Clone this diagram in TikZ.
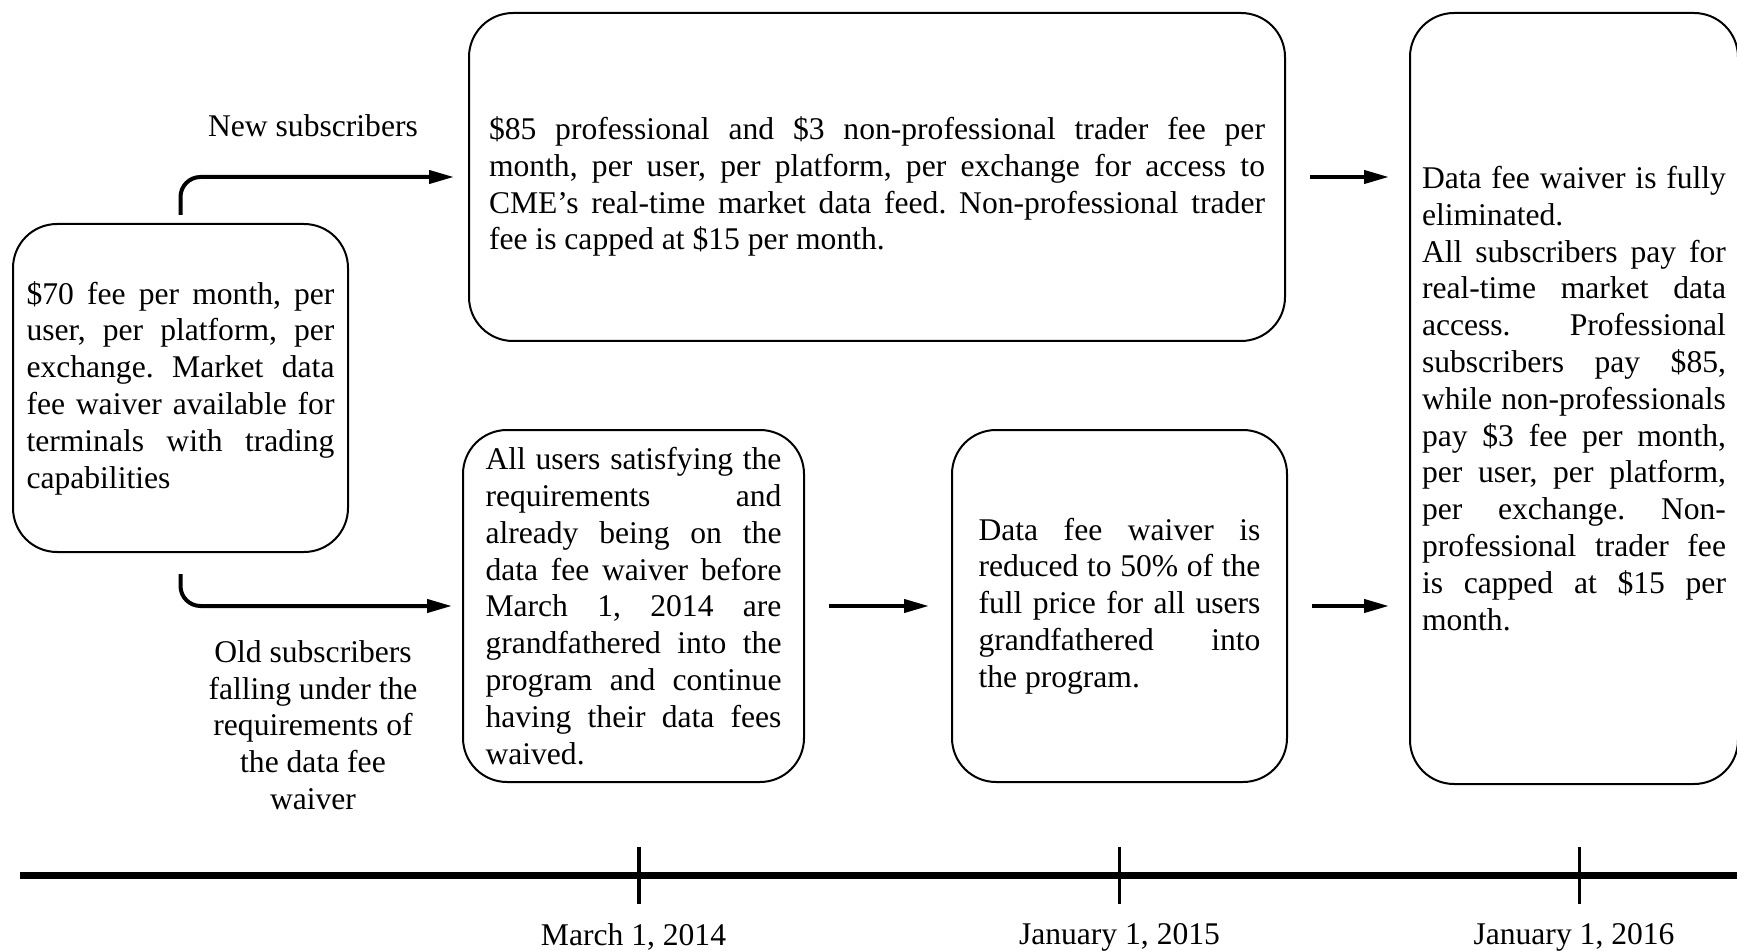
\documentclass[tikz,border=0pt]{standalone}
\usepackage{fontspec}
\setmainfont{Liberation Serif}
\usetikzlibrary{positioning,arrows.meta,calc}
\tolerance=10000
\hyphenpenalty=10000
\frenchspacing

\begin{document}
\begin{tikzpicture}[
    font=\fontsize{15.8pt}{18.4pt}\selectfont,
    box/.style={rectangle, draw, rounded corners=22pt, line width=1pt, align=justify, inner sep=0pt},
    arr/.style={-{Triangle[length=12.5pt, width=6.5pt]}, line width=2pt},
    lbl/.style={align=center, inner sep=0pt},
    axisline/.style={line width=3.5pt},
    tickmark/.style={line width=1.8pt}
]
\useasboundingbox (0,0) rectangle (868.5pt,475pt);

% --- Fee boxes ---
\node[box, text width=154pt, minimum width=167.5pt, minimum height=164pt] (start) at (90.25pt,281pt)
  {\$70 fee per month, per\linebreak user, per platform, per\linebreak exchange. Market data\linebreak fee waiver available for\linebreak terminals with trading\linebreak capabilities};

\node[box, text width=388pt, minimum width=408pt, minimum height=164pt] (newfee) at (438.5pt,386.5pt)
  {\rule{0pt}{21pt}\$85 professional and \$3 non-professional trader fee per\linebreak month, per user, per platform, per exchange for access to\linebreak CME's real-time market data feed. Non-professional trader\linebreak fee is capped at \$15 per month.};

\node[box, text width=148pt, minimum width=170.5pt, minimum height=176pt] (grand) at (316.75pt,172pt)
  {All users satisfying the\linebreak requirements and\linebreak already being on the\linebreak data fee waiver before\linebreak March 1, 2014 are\linebreak grandfathered into the\linebreak program and continue\linebreak having their data fees\linebreak waived.};

\node[box, text width=141pt, minimum width=167.5pt, minimum height=176pt, right=73pt of grand] (half)
  {Data fee waiver is\linebreak reduced to 50\% of the\linebreak full price for all users\linebreak grandfathered into\linebreak the program.};

\node[box, text width=152pt, minimum width=164pt, minimum height=385.5pt] (final) at (787pt,275.75pt)
  {Data fee waiver is fully\linebreak eliminated.\\ All subscribers pay for\linebreak real-time market data\linebreak access. Professional\linebreak subscribers pay \$85,\linebreak while non-professionals\linebreak pay \$3 fee per month,\linebreak per user, per platform,\linebreak per exchange. Non-\linebreak professional trader fee\linebreak is capped at \$15 per\linebreak month.};

% --- Branch labels ---
\node[lbl] (newlbl) at (156.5pt,412pt) {New subscribers};
\node[lbl] (oldlbl) at (156.5pt,112.5pt) {Old subscribers\\falling under the\\requirements of\\the data fee\\waiver};

% --- Arrows ---
\draw[arr, rounded corners=10pt, shorten <=4pt, shorten >=7pt] (start.north) |- (newfee.west);
\draw[arr, rounded corners=10pt, shorten <=10.5pt, shorten >=5pt] (start.south) |- (grand.west);
\draw[arr, shorten <=12pt, shorten >=11pt] (grand) -- (half);
\draw[arr, shorten <=12pt, shorten >=10pt] (newfee.east) -- (newfee.east -| final.west);
\draw[arr, shorten <=12pt, shorten >=10pt] (half.east) -- (half.east -| final.west);

% --- Timeline ---
\coordinate (axisL) at (10pt,37.5pt);
\coordinate (axisR) at (872pt,37.5pt);
\coordinate (base) at (0,6.5pt);
\draw[axisline] (axisL) -- (axisR);
\foreach \b/\dx in {grand/2.75pt,half/0pt,final/2.75pt}
  \draw[tickmark] ($(\b |- axisL)+(\dx,14.25pt)$) -- ++(0,-28.5pt);

\node[lbl] (d14) at (grand |- base) {March 1, 2014};
\node[lbl] (d15) at (half |- base) {January 1, 2015};
\node[lbl] (d16) at (final |- base) {January 1, 2016};

\end{tikzpicture}
\end{document}
